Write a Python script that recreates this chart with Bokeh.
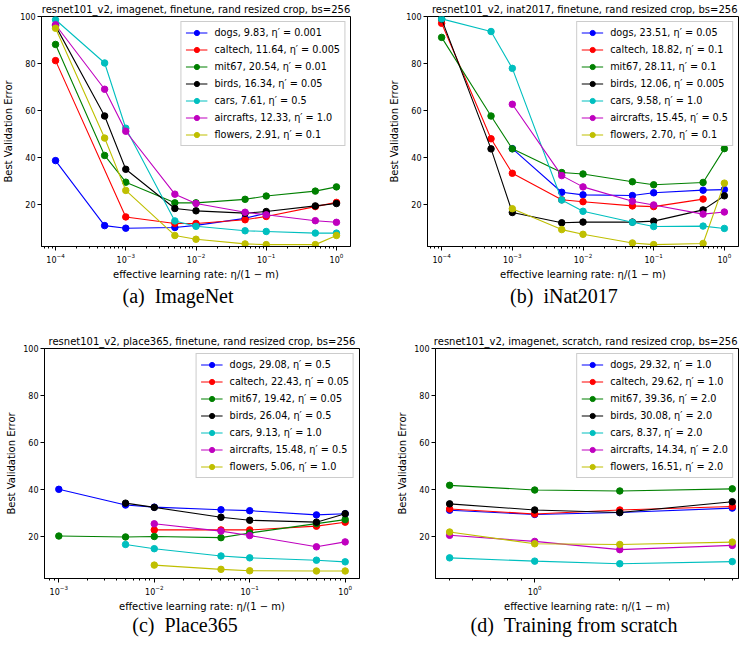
import math
from bokeh.plotting import figure
from bokeh.models import (FixedTicker, LogTickFormatter, Legend, LegendItem, Div, Spacer, Range1d)
from bokeh.layouts import column, row
from bokeh.embed import file_html
from bokeh.resources import INLINE

# ---------------- data ----------------
NAMES = ["dogs", "caltech", "mit67", "birds", "cars", "aircrafts", "flowers"]
COLORS = ["#0000ff", "#ff0000", "#008000", "#000000", "#00bfbf", "#bf00bf", "#bfbf00"]

# (a) ImageNet
A_TITLE = "resnet101_v2, imagenet, finetune, rand resized crop, bs=256"
A_X = [1e-4, 5e-4, 1e-3, 5e-3, 1e-2, 5e-2, 1e-1, 5e-1, 1.0]
A_dogs = [38.6, 10.9, 9.8, 10.1, 11.0, 14.0, 16.2, None, None]
A_caltech = [81.2, None, 14.6, 11.8, 11.8, 13.4, 14.8, 19.0, 20.8]
A_mit67 = [88.1, 40.8, 29.4, 20.6, 20.6, 22.1, 23.5, 25.6, 27.4]
A_birds = [96.0, 57.6, 34.9, 18.2, 17.2, 16.2, 16.9, 19.3, 20.3]
A_cars = [98.6, 80.2, 52.4, 12.9, 10.6, 8.7, 8.4, 7.7, 7.7]
A_aircrafts = [96.5, 69.0, 51.1, 24.3, 20.3, 16.6, 15.5, 13.0, 12.3]
A_flowers = [95.0, 48.2, 25.9, 6.7, 5.1, 3.1, 2.8, 2.8, 6.7]
A_LABELS = ["dogs, 9.83, η′ = 0.001", "caltech, 11.64, η′ = 0.005", "mit67, 20.54, η′ = 0.01",
            "birds, 16.34, η′ = 0.05", "cars, 7.61, η′ = 0.5", "aircrafts, 12.33, η′ = 1.0",
            "flowers, 2.91, η′ = 0.1"]

# (b) iNat2017
B_TITLE = "resnet101_v2, inat2017, finetune, rand resized crop, bs=256"
B_X = [1e-4, 5e-4, 1e-3, 5e-3, 1e-2, 5e-2, 1e-1, 5e-1, 1.0]
B_dogs = [None, None, 43.7, 25.1, 24.0, 23.7, 24.9, 26.0, 26.25]
B_caltech = [97.1, 47.9, 33.2, 21.9, 21.1, 19.3, 19.0, 22.2, None]
B_mit67 = [91.1, 57.6, 43.6, 33.5, 32.9, 29.6, 28.3, 29.3, 43.7]
B_birds = [98.9, 43.6, 16.5, 12.1, 12.4, 12.4, 12.8, 17.6, 23.6]
B_cars = [99.0, 93.6, 77.9, 21.8, 17.0, 12.3, 10.5, 10.7, 9.7]
B_aircrafts = [None, None, 62.6, 32.2, 27.4, 21.3, 19.7, 15.8, 16.7]
B_flowers = [None, None, 18.1, 9.2, 7.2, 3.5, 2.8, 3.3, 29.0]
B_LABELS = ["dogs, 23.51, η′ = 0.05", "caltech, 18.82, η′ = 0.1", "mit67, 28.11, η′ = 0.1",
            "birds, 12.06, η′ = 0.005", "cars, 9.58, η′ = 1.0", "aircrafts, 15.45, η′ = 0.5",
            "flowers, 2.70, η′ = 0.1"]

# (c) Place365
C_TITLE = "resnet101_v2, place365, finetune, rand resized crop, bs=256"
C_X = [1e-3, 5e-3, 1e-2, 5e-2, 1e-1, 5e-1, 1.0]
C_dogs = [40.0, 33.3, 32.4, 31.3, 30.9, 29.1, 29.6]
C_caltech = [None, None, 22.7, 22.7, 22.7, 24.3, 26.0]
C_mit67 = [20.1, 19.7, 19.9, 19.4, 21.4, 25.4, 27.1]
C_birds = [None, 34.1, 32.3, 28.1, 26.8, 26.0, 29.6]
C_cars = [None, 16.5, 14.7, 11.6, 10.8, 9.8, 9.1]
C_aircrafts = [None, None, 25.3, 22.2, 20.3, 15.5, 17.6]
C_flowers = [None, None, 7.7, 5.9, 5.3, 5.2, 5.2]
C_LABELS = ["dogs, 29.08, η′ = 0.5", "caltech, 22.43, η′ = 0.05", "mit67, 19.42, η′ = 0.05",
            "birds, 26.04, η′ = 0.5", "cars, 9.13, η′ = 1.0", "aircrafts, 15.48, η′ = 0.5",
            "flowers, 5.06, η′ = 1.0"]

# (d) Training from scratch
D_TITLE = "resnet101_v2, imagenet, scratch, rand resized crop, bs=256"
D_X = [0.5, 1.0, 2.0, 5.0]
D_dogs = [31.1, 29.3, 30.1, 32.0]
D_caltech = [31.6, 29.5, 31.2, 32.7]
D_mit67 = [41.7, 39.7, 39.3, 40.2]
D_birds = [33.8, 31.2, 30.1, 34.7]
D_cars = [10.8, 9.4, 8.3, 9.2]
D_aircrafts = [20.4, 17.8, 14.3, 16.1]
D_flowers = [21.8, 16.8, 16.5, 17.5]
D_LABELS = ["dogs, 29.32, η′ = 1.0", "caltech, 29.62, η′ = 1.0", "mit67, 39.36, η′ = 2.0",
            "birds, 30.08, η′ = 2.0", "cars, 8.37, η′ = 2.0", "aircrafts, 14.34, η′ = 2.0",
            "flowers, 16.51, η′ = 2.0"]

Y_TICKS = [20, 40, 60, 80, 100]
X_LABEL = "effective learning rate: η/(1 − m)"
Y_LABEL = "Best Validation Error"
CAPTIONS = ["(a)&nbsp;&nbsp;ImageNet", "(b)&nbsp;&nbsp;iNat2017", "(c)&nbsp;&nbsp;Place365",
            "(d)&nbsp;&nbsp;Training from scratch"]

FONT = "DejaVu Sans"


def log_ticks(lo, hi):
    major, minor = [], []
    for e in range(-6, 3):
        b = 10.0 ** e
        if lo <= b <= hi:
            major.append(b)
        for m in range(2, 10):
            v = m * b
            if lo <= v <= hi:
                minor.append(v)
    return major, minor


def make_fig(title, xs, series, labels, xlo, xhi, width, height, bl, br, bt, bb, title_align="center"):
    p = figure(width=width, height=height, x_axis_type="log",
               x_range=Range1d(xlo, xhi), y_range=Range1d(2, 100),
               output_backend="svg", toolbar_location=None,
               min_border_left=bl, min_border_right=br, min_border_top=bt, min_border_bottom=bb)
    p.title.text = title
    p.title.text_font = FONT
    p.title.text_font_size = "10px"
    p.title.text_font_style = "normal"
    p.title.text_color = "black"
    p.title.align = title_align
    p.title.offset = 1 if title_align == "right" else 0
    p.title.standoff = 3
    p.xgrid.visible = False
    p.ygrid.visible = False
    p.outline_line_color = "black"
    p.outline_line_width = 1
    p.outline_line_alpha = 1
    p.background_fill_color = "white"

    major, minor = log_ticks(xlo, xhi)
    p.xaxis.ticker = FixedTicker(ticks=major, minor_ticks=minor)
    p.xaxis.formatter = LogTickFormatter()
    p.yaxis.ticker = FixedTicker(ticks=Y_TICKS, minor_ticks=[])
    for ax in (p.xaxis[0], p.yaxis[0]):
        ax.axis_line_color = "black"
        ax.major_tick_line_color = "black"
        ax.minor_tick_line_color = "black"
        ax.major_tick_out = 4
        ax.major_tick_in = 0
        ax.minor_tick_out = 2
        ax.minor_tick_in = 0
        ax.major_label_text_font = FONT
        ax.major_label_text_font_size = "8px"
        ax.major_label_text_color = "black"
        ax.axis_label_text_font = FONT
        ax.axis_label_text_font_size = "10px"
        ax.axis_label_text_font_style = "normal"
        ax.axis_label_text_color = "black"
        ax.major_label_standoff = 2
    p.xaxis.axis_label = X_LABEL
    p.yaxis.axis_label = Y_LABEL
    p.xaxis.axis_label_standoff = 3
    p.yaxis.axis_label_standoff = 3

    items = []
    for ys, lab, col in zip(series, labels, COLORS):
        px = [x for x, y in zip(xs, ys) if y is not None]
        py = [y for y in ys if y is not None]
        r1 = p.line(px, py, line_color=col, line_width=1.1)
        r2 = p.scatter(px, py, size=6.5, marker="circle", fill_color=col, line_color=col)
        items.append(LegendItem(label=lab, renderers=[r1, r2]))
    legend = Legend(items=items, location="top_right",
                    label_text_font=FONT, label_text_font_size="9.7px",
                    label_text_color="black",
                    glyph_width=22, glyph_height=13, label_height=13,
                    label_standoff=7, spacing=4, padding=4, margin=5,
                    border_line_color="#cccccc", border_line_alpha=1,
                    background_fill_color="white", background_fill_alpha=0.8)
    p.add_layout(legend)
    return p


def cap(text, width, height, pad_top=0):
    return Div(text=text, width=width, height=height, margin=0,
               styles={"font-family": "Liberation Serif", "font-size": "20px",
                       "text-align": "center", "line-height": "22px", "color": "black",
                       "white-space": "nowrap", "padding-top": f"{pad_top}px",
                       "box-sizing": "border-box"})


a_lo, a_hi = 10 ** -4.2, 10 ** 0.2
c_lo, c_hi = 10 ** -3.15, 10 ** 0.15
d_lo = 0.5 / 10 ** 0.05
d_hi = 10 ** (math.log10(d_lo) + 308 / 287.3)

fa = make_fig(A_TITLE, A_X, [A_dogs, A_caltech, A_mit67, A_birds, A_cars, A_aircrafts, A_flowers],
              A_LABELS, a_lo, a_hi, 386, 282, 36, 36, 14, 34)
fb = make_fig(B_TITLE, B_X, [B_dogs, B_caltech, B_mit67, B_birds, B_cars, B_aircrafts, B_flowers],
              B_LABELS, a_lo, a_hi, 353, 282, 36, 1, 14, 34, title_align="right")
fc = make_fig(C_TITLE, C_X, [C_dogs, C_caltech, C_mit67, C_birds, C_cars, C_aircrafts, C_flowers],
              C_LABELS, c_lo, c_hi, 394, 282, 44, 35, 14, 34)
fd = make_fig(D_TITLE, D_X, [D_dogs, D_caltech, D_mit67, D_birds, D_cars, D_aircrafts, D_flowers],
              D_LABELS, d_lo, d_hi, 345, 282, 36, 1, 14, 34, title_align="right")

cap_row1 = row(cap(CAPTIONS[0], 356, 50, 3), Spacer(width=33, height=50, margin=0),
               cap(CAPTIONS[1], 350, 50, 3), spacing=0)
cap_row2 = row(cap(CAPTIONS[2], 370, 20), Spacer(width=39, height=20, margin=0),
               cap(CAPTIONS[3], 330, 20), spacing=0)

layout = column(row(fa, fb, spacing=0), cap_row1, row(fc, fd, spacing=0), cap_row2, spacing=0)

open("out.html", "w").write(file_html(layout, INLINE))
